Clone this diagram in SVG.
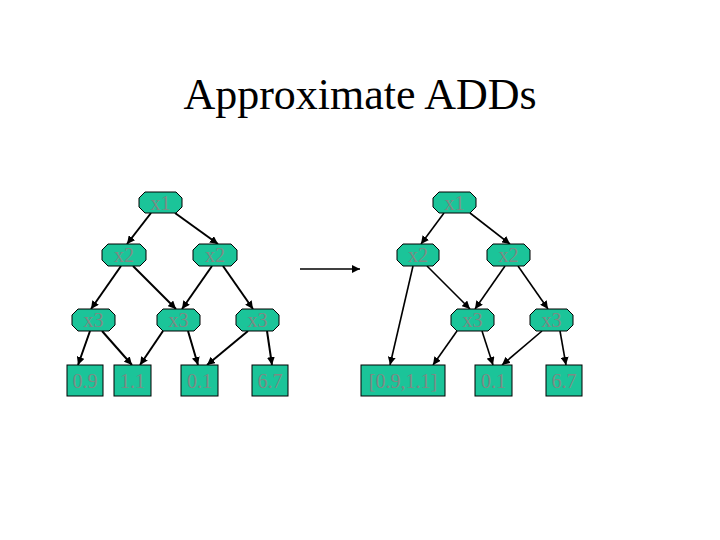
<svg xmlns="http://www.w3.org/2000/svg" width="720" height="540" viewBox="0 0 720 540">
<defs>
<style>
.title{font-family:"Liberation Serif","Times New Roman",serif;font-size:44px;fill:#000;text-anchor:middle}
.node{fill:#1BC499;stroke:#000;stroke-width:1}
.lbl{font-family:"Liberation Serif","Times New Roman",serif;font-size:20px;fill:#7d8a84;text-anchor:middle;dominant-baseline:central}
.e{stroke:#000;stroke-width:2;fill:none;marker-end:url(#ah)}
.e2{stroke:#000;stroke-width:1.6;fill:none;marker-end:url(#ah)}
</style>
<marker id="ah" viewBox="0 0 10 10" refX="10" refY="5" markerWidth="8" markerHeight="8" markerUnits="userSpaceOnUse" orient="auto">
<path d="M0,0 L10,5 L0,10 z" fill="#000"/>
</marker>
</defs>
<rect width="720" height="540" fill="#fff"/>
<text class="title" x="360" y="109">Approximate ADDs</text>

<g id="connectors">
<line class="e" x1="151" y1="213" x2="127" y2="244"/>
<line class="e" x1="175" y1="213" x2="218" y2="244"/>
<line class="e" x1="121" y1="266" x2="91" y2="309"/>
<line class="e" x1="133" y1="266" x2="176" y2="309"/>
<line class="e" x1="212" y1="266" x2="182" y2="309"/>
<line class="e" x1="223" y1="266" x2="253" y2="309"/>
<line class="e" x1="90" y1="331" x2="78" y2="365"/>
<line class="e" x1="102" y1="331" x2="132" y2="365"/>
<line class="e" x1="163" y1="331" x2="140" y2="365"/>
<line class="e" x1="188" y1="331" x2="198" y2="365"/>
<line class="e" x1="248" y1="331" x2="207" y2="365"/>
<line class="e" x1="267" y1="331" x2="272" y2="365"/>

<line class="e2" x1="300" y1="269" x2="360" y2="269"/>

<line class="e2" x1="444" y1="213" x2="421" y2="244"/>
<line class="e2" x1="470" y1="213" x2="510" y2="244"/>
<line class="e2" x1="413" y1="266" x2="390" y2="365"/>
<line class="e2" x1="427" y1="266" x2="470" y2="309"/>
<line class="e2" x1="505" y1="266" x2="475" y2="309"/>
<line class="e2" x1="518" y1="266" x2="548" y2="309"/>
<line class="e2" x1="457" y1="331" x2="433" y2="365"/>
<line class="e2" x1="482" y1="331" x2="493" y2="365"/>
<line class="e2" x1="542" y1="331" x2="502" y2="365"/>
<line class="e2" x1="560" y1="331" x2="566" y2="365"/>
</g>

<!-- left tree -->
<g id="L_x1"><polygon class="node" points="145,192 176,192 182,198 182,207 176,213 145,213 139,207 139,198"/><text class="lbl" x="160.5" y="203">x1</text></g>
<g id="L_x2a"><polygon class="node" points="108,244 140,244 146,250 146,260 140,266 108,266 102,260 102,250"/><text class="lbl" x="124" y="255">x2</text></g>
<g id="L_x2b"><polygon class="node" points="199,244 231,244 237,250 237,260 231,266 199,266 193,260 193,250"/><text class="lbl" x="215" y="255">x2</text></g>
<g id="L_x3a"><polygon class="node" points="78,309 109,309 115,315 115,325 109,331 78,331 72,325 72,315"/><text class="lbl" x="93.5" y="320">x3</text></g>
<g id="L_x3b"><polygon class="node" points="163,309 194,309 200,315 200,325 194,331 163,331 157,325 157,315"/><text class="lbl" x="178.5" y="320">x3</text></g>
<g id="L_x3c"><polygon class="node" points="242,309 273,309 279,315 279,325 273,331 242,331 236,325 236,315"/><text class="lbl" x="257.5" y="320">x3</text></g>
<g id="L_09"><rect class="node" x="67" y="365" width="36" height="31"/><text class="lbl" x="85" y="381">0.9</text></g>
<g id="L_11"><rect class="node" x="114" y="365" width="37" height="31"/><text class="lbl" x="132.5" y="381">1.1</text></g>
<g id="L_01"><rect class="node" x="181" y="365" width="37" height="31"/><text class="lbl" x="199.5" y="381">0.1</text></g>
<g id="L_67"><rect class="node" x="252" y="365" width="36" height="31"/><text class="lbl" x="270" y="381">6.7</text></g>

<!-- right tree -->
<g id="R_x1"><polygon class="node" points="439,192 470,192 476,198 476,207 470,213 439,213 433,207 433,198"/><text class="lbl" x="454.5" y="203">x1</text></g>
<g id="R_x2a"><polygon class="node" points="403,244 433,244 439,250 439,260 433,266 403,266 397,260 397,250"/><text class="lbl" x="418" y="255">x2</text></g>
<g id="R_x2b"><polygon class="node" points="493,244 524,244 530,250 530,260 524,266 493,266 487,260 487,250"/><text class="lbl" x="508.5" y="255">x2</text></g>
<g id="R_x3a"><polygon class="node" points="457,309 488,309 494,315 494,325 488,331 457,331 451,325 451,315"/><text class="lbl" x="472.5" y="320">x3</text></g>
<g id="R_x3b"><polygon class="node" points="536,309 567,309 573,315 573,325 567,331 536,331 530,325 530,315"/><text class="lbl" x="551.5" y="320">x3</text></g>
<g id="R_0911"><rect class="node" x="361" y="365" width="84" height="31"/><text class="lbl" x="403" y="381">[0.9,1.1]</text></g>
<g id="R_01"><rect class="node" x="475" y="365" width="37" height="31"/><text class="lbl" x="493.5" y="381">0.1</text></g>
<g id="R_67"><rect class="node" x="546" y="365" width="36" height="31"/><text class="lbl" x="564" y="381">6.7</text></g>
</svg>
